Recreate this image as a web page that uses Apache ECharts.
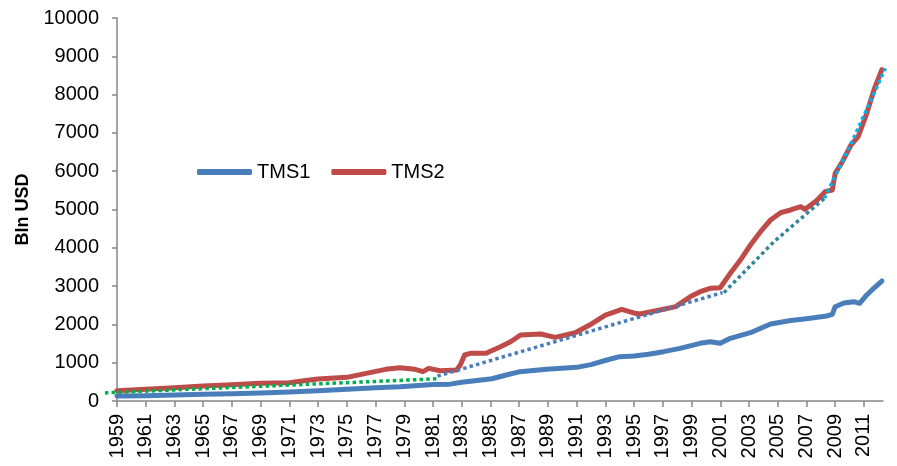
<!DOCTYPE html>
<html><head><meta charset="utf-8">
<script src="https://cdn.jsdelivr.net/npm/echarts@6/dist/echarts.min.js"></script>
<style>html,body{margin:0;padding:0;background:#fff}#c{width:897px;height:466px}</style>
</head><body><div id="c"></div>
<script>
// TMS1 (fractional year, Bln USD)
const tms1Dates = [1959, 1961, 1963, 1965, 1967, 1969, 1971, 1973, 1975, 1977, 1978.7, 1981, 1982.2, 1983, 1985.1, 1986.1, 1987.05, 1988.9, 1991, 1992, 1993.1, 1994, 1995, 1996, 1997.05, 1998.2, 1999.6, 2000.3, 2001, 2001.7, 2003.1, 2004.5, 2005.9, 2007, 2008.4, 2008.8, 2009.0, 2009.6, 2010.3, 2010.7, 2011.2, 2011.7, 2012.25];
const tms1Values = [130, 140, 157, 175, 191, 209, 235, 270, 305, 345, 370, 430, 440, 490, 580, 679, 766, 827, 879, 950, 1070, 1158, 1175, 1220, 1288, 1375, 1506, 1549, 1506, 1637, 1784, 2010, 2100, 2150, 2219, 2260, 2462, 2560, 2593, 2550, 2768, 2950, 3133];
// TMS2
const tms2Dates = [1959, 1961, 1963, 1965, 1967, 1969, 1971, 1972, 1973, 1975, 1976.6, 1977.7, 1978.7, 1979.75, 1980.3, 1980.7, 1981.5, 1982.65, 1982.9, 1983.2, 1983.6, 1984.7, 1985.0, 1985.7, 1986.4, 1987.1, 1988.5, 1989.5, 1990.9, 1991.9, 1993.0, 1994.15, 1995.07, 1995.4, 1996.8, 1997.9, 1998.9, 1999.6, 2000.3, 2001.0, 2001.7, 2002.4, 2003.1, 2003.8, 2004.5, 2005.2, 2005.9, 2006.6, 2006.9, 2007.7, 2008.3, 2008.8, 2009.0, 2009.5, 2010.1, 2010.6, 2011.2, 2011.7, 2012.25];
const tms2Values = [270, 305, 347, 390, 427, 462, 478, 530, 574, 618, 740, 827, 870, 827, 765, 853, 791, 809, 940, 1201, 1245, 1245, 1300, 1418, 1548, 1723, 1749, 1662, 1783, 1984, 2245, 2393, 2289, 2271, 2376, 2463, 2720, 2855, 2942, 2960, 3334, 3681, 4073, 4421, 4726, 4917, 4987, 5073, 5004, 5229, 5465, 5509, 5944, 6248, 6684, 6901, 7511, 8120, 8650];
// dotted trend lines
const trendGreenDates = [1958.16, 1981.6];
const trendGreenValues = [212, 580];
const trendBlueDates = [1981.6, 2001.7];
const trendBlueValues = [650, 2830];
const trendTealDates = [2001.8, 2005.3, 2008.88];
const trendTealValues = [2830, 4150, 5292];
const trendCyanDates = [2008.88, 2010.74, 2013.18];
const trendCyanValues = [5292, 6700, 8687];
// axis ranges
const xMin = 1959, xMax = 2012.33, xStep = 2;
const yMin = 0, yMax = 10000, yStep = 1000;

const pair = (d, v) => d.map((x, i) => [x, v[i]]);
const FONT = '"Liberation Sans", Arial, sans-serif';

// layout of main plot area
const L = 117, R = 14, T = 18, B = 65, W = 897;
const pxPerYear = (W - L - R) / (xMax - xMin);
// wider overlay grid (same scale) so trendlines may run past the axis ends
const oMin = 1958, oMax = 2014;

const chart = echarts.init(document.getElementById('c'), null, {renderer: 'canvas'});
const dotted = (name, d, v, color) => ({
  name, type: 'line', data: pair(d, v), symbol: 'none', silent: true, z: 5,
  xAxisIndex: 1, yAxisIndex: 1,
  lineStyle: {color, width: 3.5, type: [3.5, 3.2], cap: 'butt'}
});
chart.setOption({
  animation: false,
  backgroundColor: '#ffffff',
  grid: [
    {left: L, right: R, top: T, bottom: B},
    {left: L - (xMin - oMin) * pxPerYear, width: (oMax - oMin) * pxPerYear, top: T, bottom: B}
  ],
  legend: {
    data: ['TMS1', 'TMS2'], left: 192, top: 157, itemWidth: 55, itemHeight: 6, itemGap: 21,
    icon: 'roundRect',
    textStyle: {fontFamily: FONT, fontSize: 20, color: '#000'}
  },
  xAxis: [{
    type: 'value', min: xMin, max: xMax, interval: xStep, gridIndex: 0,
    axisLine: {lineStyle: {color: '#868686', width: 1.5}},
    axisTick: {show: true, length: 6, lineStyle: {color: '#868686', width: 1.5}},
    splitLine: {show: false},
    axisLabel: {
      rotate: 90, margin: 13, fontFamily: FONT, fontSize: 20, color: '#000', showMaxLabel: false,
      formatter: v => Number.isInteger(v) ? String(v) : ''
    }
  }, {
    type: 'value', min: oMin, max: oMax, gridIndex: 1, show: false
  }],
  yAxis: [{
    type: 'value', min: yMin, max: yMax, interval: yStep, gridIndex: 0,
    name: 'Bln USD', nameLocation: 'middle', nameRotate: 90, nameGap: 76,
    nameTextStyle: {fontFamily: FONT, fontSize: 18, fontWeight: 'bold', color: '#000'},
    axisLine: {show: true, lineStyle: {color: '#868686', width: 1.5}},
    axisTick: {show: true, length: 5, lineStyle: {color: '#868686', width: 1.5}},
    splitLine: {show: false},
    axisLabel: {margin: 18, fontFamily: FONT, fontSize: 20, color: '#000', formatter: v => String(v)}
  }, {
    type: 'value', min: yMin, max: yMax, gridIndex: 1, show: false
  }],
  series: [
    {name: 'TMS1', type: 'line', data: pair(tms1Dates, tms1Values), symbol: 'none', z: 3,
     itemStyle: {color: '#4A7EBB'}, lineStyle: {color: '#4A7EBB', width: 5, cap: 'round', join: 'round'}},
    {name: 'TMS2', type: 'line', data: pair(tms2Dates, tms2Values), symbol: 'none', z: 3,
     itemStyle: {color: '#BE4B48'}, lineStyle: {color: '#BE4B48', width: 5, cap: 'round', join: 'round'}},
    dotted('trend1', trendGreenDates, trendGreenValues, '#00B050'),
    dotted('trend2', trendBlueDates, trendBlueValues, '#4A7EBB'),
    dotted('trend3', trendTealDates, trendTealValues, '#31869B'),
    dotted('trend4', trendCyanDates, trendCyanValues, '#00B0F0')
  ]
});
</script>
</body></html>
